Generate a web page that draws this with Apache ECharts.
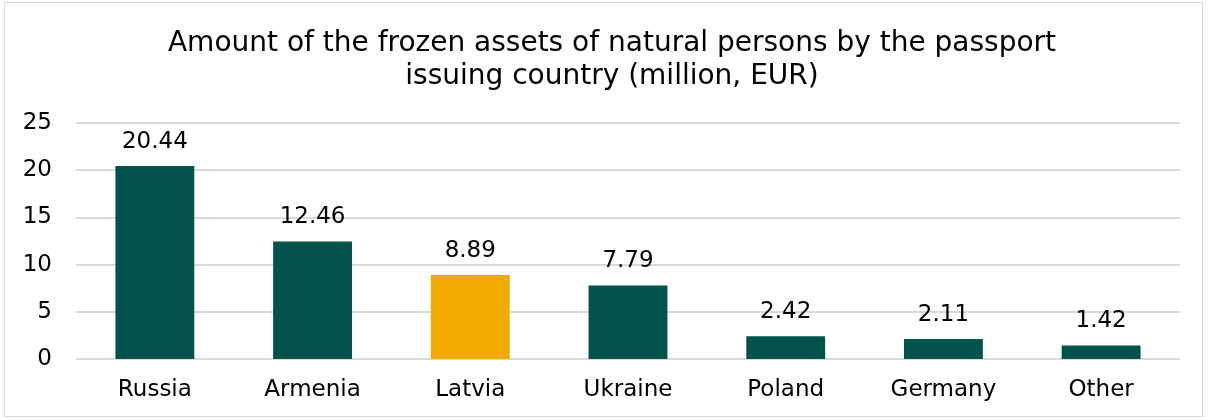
<!DOCTYPE html>
<html><head><meta charset="utf-8">
<script src="https://cdn.jsdelivr.net/npm/echarts@6/dist/echarts.min.js"></script>
<style>
html,body{margin:0;padding:0;background:#fff;}
#frame{position:absolute;left:4px;top:2px;width:1199px;height:415px;border:1px solid #d9d9d9;box-sizing:border-box;}
#c{position:absolute;left:0;top:0;width:1208px;height:420px;}
</style></head>
<body><div id="frame"></div><div id="c"></div>
<script>
const categories = ["Russia","Armenia","Latvia","Ukraine","Poland","Germany","Other"];
const values = [20.44,12.46,8.89,7.79,2.42,2.11,1.42];
const highlight = "Latvia";
const yTicks = [0,5,10,15,20,25];
const chart = echarts.init(document.getElementById('c'));
const font = "Verdana, 'DejaVu Sans', sans-serif";
chart.setOption({
  animation:false,
  title:{text:"Amount of the frozen assets of natural persons by the passport\nissuing country (million, EUR)",left:607,top:22,textAlign:'center',
    textStyle:{fontFamily:font,fontSize:28,fontWeight:'normal',color:'#000',lineHeight:33,align:'center'}},
  grid:{left:76,right:28,top:123,bottom:61},
  xAxis:{type:'category',data:categories,axisLine:{show:false},axisTick:{show:false},
    axisLabel:{fontFamily:font,fontSize:23,color:'#000',margin:20}},
  yAxis:{type:'value',min:yTicks[0],max:yTicks[yTicks.length-1],interval:5,
    axisLabel:{fontFamily:font,fontSize:23,color:'#000',margin:24},
    splitLine:{lineStyle:{color:'#d9d9d9',width:2}}},
  series:[{type:'bar',barWidth:'50%',
    data:values.map((v,i)=>({value:v,itemStyle:{color:categories[i]===highlight?'#f2a900':'#02534b'}})),
    label:{show:true,position:'top',distance:13,fontFamily:font,fontSize:23,color:'#000',formatter:p=>p.value.toFixed(2)}}]
});
</script></body></html>
